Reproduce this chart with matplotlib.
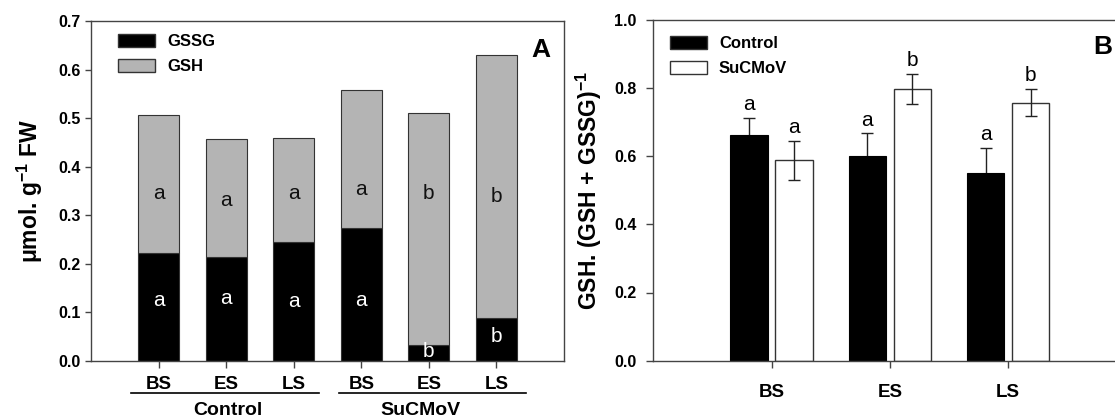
import numpy as np
import matplotlib
matplotlib.use('Agg')
import matplotlib.pyplot as plt
import matplotlib.transforms as mtransforms
from matplotlib.patches import Patch

plt.rcParams['font.family'] = ['Liberation Sans', 'DejaVu Sans']
plt.rcParams['mathtext.fontset'] = 'custom'
plt.rcParams['mathtext.rm'] = 'Liberation Sans'
plt.rcParams['mathtext.bf'] = 'Liberation Sans:bold'
plt.rcParams['mathtext.default'] = 'bf'

# ---- panel A data: glutathione pools (stacked) ----
stages = ['BS', 'ES', 'LS']
a_ticklabels = stages + stages
groups = ['Control', 'SuCMoV']
gssg = [0.223, 0.215, 0.244, 0.274, 0.032, 0.088]
gsh = [0.283, 0.242, 0.215, 0.283, 0.479, 0.541]
gssg_letters = ['a', 'a', 'a', 'a', 'b', 'b']
gsh_letters = ['a', 'a', 'a', 'a', 'b', 'b']
gssg_letter_y = [0.125, 0.129, 0.122, 0.125, 0.019, 0.050]
gsh_letter_y = [0.345, 0.331, 0.345, 0.354, 0.345, 0.338]

# ---- panel B data: GSH / (GSH + GSSG) ----
ratio_control = [0.661, 0.601, 0.551]
ratio_control_err = [0.052, 0.066, 0.074]
ratio_sucmov = [0.588, 0.797, 0.757]
ratio_sucmov_err = [0.057, 0.045, 0.040]
letters_control = ['a', 'a', 'a']
letters_sucmov = ['a', 'b', 'b']

W, H = 1115, 418
fig = plt.figure(figsize=(W / 100, H / 100), dpi=100)
axA = fig.add_axes([91 / W, 1 - 361 / H, 473 / W, 340 / H])
axB = fig.add_axes([653.3 / W, 1 - 360.7 / H, 473 / W, 341 / H])

spine_col = '#444444'
gray = '#b4b4b4'
tick_fs = 11.5
xtick_fs = 13.5
leg_fs = 12

for ax in (axA, axB):
    for s in ax.spines.values():
        s.set_color(spine_col)
        s.set_linewidth(1.0)
    ax.tick_params(direction='out', color=spine_col, width=1.0)

# ---------------- panel A ----------------
x = np.arange(len(gssg))
bw = 0.61
axA.bar(x, gssg, bw, color='black', edgecolor='#333333', linewidth=0.8)
axA.bar(x, gsh, bw, bottom=gssg, color=gray, edgecolor='#333333', linewidth=0.8)
for i in range(len(x)):
    axA.text(x[i], gsh_letter_y[i], gsh_letters[i], ha='center', va='center',
             fontsize=15, color='#111111')
    axA.text(x[i], gssg_letter_y[i], gssg_letters[i], ha='center', va='center',
             fontsize=15, color='white')

axA.set_xlim(-1, 6)
axA.set_ylim(0, 0.7)
axA.set_yticks(np.arange(0, 0.71, 0.1))
axA.set_yticklabels(['%.1f' % v for v in np.arange(0, 0.71, 0.1)],
                    fontsize=tick_fs, fontweight='bold')
axA.set_xticks(x)
axA.set_xticklabels(a_ticklabels, fontsize=xtick_fs, fontweight='bold')
axA.tick_params(axis='x', length=5, pad=6)
axA.tick_params(axis='y', length=4.5, pad=3)
axA.set_ylabel(r'μmol. g$^{-1}$ FW', fontsize=16.5, fontweight='bold')
axA.yaxis.set_label_coords(-0.098, 0.5)

trans = mtransforms.blended_transform_factory(axA.transData, axA.transAxes)
for (x0, x1, xt), name in zip([(-0.41, 2.37, 1.03), (2.67, 5.44, 3.87)], groups):
    axA.plot([x0, x1], [-0.095, -0.095], transform=trans, clip_on=False,
             color='black', linewidth=1.2)
    axA.text(xt, -0.147, name, transform=trans, ha='center', va='center',
             fontsize=14, fontweight='bold')

axA.legend([Patch(facecolor='black', edgecolor='#333333'),
            Patch(facecolor=gray, edgecolor='#333333')],
           ['GSSG', 'GSH'], loc='upper left', bbox_to_anchor=(0.057, 0.962),
           frameon=False, borderpad=0, borderaxespad=0, handlelength=2.2,
           handleheight=0.8, labelspacing=0.6, handletextpad=0.75,
           prop={'weight': 'bold', 'size': leg_fs})
axA.text(0.972, 0.95, 'A', transform=axA.transAxes, ha='right', va='top',
         fontsize=19, fontweight='bold')

# ---------------- panel B ----------------
xb = np.arange(len(stages))
off, bwb = 0.19, 0.315
axB.bar(xb - off, ratio_control, bwb, yerr=ratio_control_err, capsize=4,
        color='black', edgecolor='black', linewidth=0.8,
        error_kw=dict(ecolor='#222222', elinewidth=1.0, capthick=1.0, zorder=0.5))
axB.bar(xb + off, ratio_sucmov, bwb, yerr=ratio_sucmov_err, capsize=4,
        color='white', edgecolor='#333333', linewidth=1.0,
        error_kw=dict(ecolor='#222222', elinewidth=1.0, capthick=1.0))
for i in range(len(xb)):
    axB.text(xb[i] - off, ratio_control[i] + ratio_control_err[i] + 0.022,
             letters_control[i], ha='center', va='baseline', fontsize=15)
    axB.text(xb[i] + off, ratio_sucmov[i] + ratio_sucmov_err[i] + 0.022,
             letters_sucmov[i], ha='center', va='baseline', fontsize=15)

axB.set_xlim(-1, 3)
axB.set_ylim(0, 1.0)
axB.set_yticks(np.arange(0, 1.01, 0.2))
axB.set_yticklabels(['%.1f' % v for v in np.arange(0, 1.01, 0.2)],
                    fontsize=tick_fs, fontweight='bold')
axB.set_xticks(xb)
axB.set_xticklabels(stages, fontsize=xtick_fs, fontweight='bold')
axB.tick_params(axis='x', length=5, pad=12)
axB.tick_params(axis='y', length=5, pad=7)
axB.set_ylabel(r'GSH. (GSH + GSSG)$^{-1}$', fontsize=16.5, fontweight='bold')
axB.yaxis.set_label_coords(-0.104, 0.5)

axB.legend([Patch(facecolor='black', edgecolor='#333333'),
            Patch(facecolor='white', edgecolor='#333333')],
           groups, loc='upper left', bbox_to_anchor=(0.035, 0.952),
           frameon=False, borderpad=0, borderaxespad=0, handlelength=2.2,
           handleheight=0.8, labelspacing=0.6, handletextpad=0.75,
           prop={'weight': 'bold', 'size': leg_fs})
axB.text(0.97, 0.955, 'B', transform=axB.transAxes, ha='right', va='top',
         fontsize=19, fontweight='bold')

fig.savefig('out.png', dpi=100)
